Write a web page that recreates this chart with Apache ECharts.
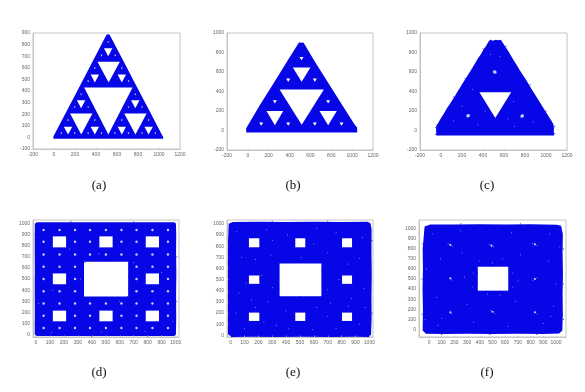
<!DOCTYPE html>
<html>
<head>
<meta charset="utf-8">
<style>html,body{margin:0;padding:0;background:#fff}#c{width:585px;height:392px}</style>
<script src="https://cdn.jsdelivr.net/npm/echarts@6/dist/echarts.min.js"></script>
</head>
<body>
<div id="c"></div>
<script>
// ---------- values (data units) ----------
const captions = ['(a)', '(b)', '(c)', '(d)', '(e)', '(f)'];
const ticks0to1000 = [0, 100, 200, 300, 400, 500, 600, 700, 800, 900, 1000];

// Outer outlines
const outlineA = [[-6,-12],[300,-12],[700,-12],[1040,-12],[1040,4],[1030,18],[900,245],[770,470],[640,695],[530,885],[515,890],[500,885],[380,675],[250,450],[120,225],[-6,8]];
const outlineB = [[-16,-20],[300,-20],[700,-20],[1048,-20],[1048,32],[1025,60],[900,270],[770,490],[640,710],[535,900],[490,903],[380,715],[250,490],[120,270],[-2,50],[-16,24]];
const outlineC = [[-45,-52],[-46,-20],[-47,20],[-42,58],[-30,70],[-15,100],[5,135],[28,175],[55,225],[80,265],[108,312],[130,350],[158,400],[185,445],[212,495],[240,540],[268,590],[295,635],[322,685],[350,735],[378,780],[405,830],[430,870],[455,915],[470,932],[495,920],[520,930],[545,925],[570,932],[585,905],[610,865],[640,815],[668,765],[695,715],[725,665],[752,615],[780,570],[810,520],[838,470],[865,420],[895,370],[920,325],[950,275],[978,225],[1005,180],[1030,135],[1055,95],[1072,60],[1076,20],[1074,-20],[1078,-52]];
const outlineD = [[2,-12],[120,-13],[300,-11],[500,-13],[700,-11],[900,-13],[990,-12],[1002,2],[1004,150],[1003,350],[1005,550],[1003,750],[1004,900],[1002,998],[990,1010],[800,1009],[600,1010],[400,1009],[200,1010],[6,1010],[-8,996],[-9,800],[-8,600],[-9,400],[-8,200],[-9,4]];
const outlineE = [[5,-14],[150,-13],[320,-14],[520,-13],[720,-14],[900,-13],[995,-14],[1012,6],[1016,150],[1015,350],[1017,550],[1015,750],[1016,950],[1008,1005],[988,1019],[800,1018],[600,1020],[400,1018],[200,1020],[15,1018],[-14,1002],[-20,800],[-19,600],[-21,400],[-19,200],[-20,12]];
const outlineF = [[-25,-44],[120,-46],[300,-43],[500,-46],[700,-44],[900,-46],[1025,-42],[1050,-12],[1054,150],[1052,350],[1055,550],[1052,750],[1054,950],[1040,1028],[1005,1040],[800,1043],[600,1041],[400,1043],[200,1041],[10,1042],[-35,1022],[-50,800],[-48,600],[-51,400],[-48,200],[-50,-12]];

// Inverted triangular holes: [left, right, top y, tip y]
const trianglesA = [[287,748,430,26],[153,366,205,26],[669,882,205,26],[414,627,653,474],
  [94,174,92,26],[349,429,92,26],[606,686,92,26],[861,941,92,26],[218,298,321,251],[734,814,321,251],
  [349,429,543,474],[606,686,543,474],[476,556,769,699],
  [62,78,42,28],[189,205,42,28],[317,333,42,28],[444,460,42,28],[572,588,42,28],[702,718,42,28],[830,846,42,28],[957,973,42,28],
  [126,142,154,140],[381,397,154,140],[638,654,154,140],[893,909,154,140],
  [189,205,267,253],[317,333,267,253],[702,718,267,253],[830,846,267,253],[250,266,377,363],[766,782,377,363],
  [317,333,490,476],[702,718,490,476],[381,397,602,588],[638,654,602,588],[444,460,712,698],[575,591,712,698],[508,524,827,813]];
const trianglesB = [[304,729,420,58],[431,600,645,500],[179,339,200,55],[687,853,200,55],
  [109,147,83,48],[368,406,83,48],[623,661,83,48],[879,917,83,48],[240,278,310,276],[751,789,310,276],
  [368,406,534,497],[623,661,534,497],[495,533,755,720]];
const trianglesC = [[366,668,393,128]];

// Square holes: [left, right, bottom, top]
const squaresD = [[344,660,342,655],[121,216,784,883],[454,549,784,883],[786,881,784,883],[121,216,453,550],[786,881,453,550],[121,216,120,216],[454,549,120,216],[786,881,120,216]];
const squaresE = [[353,654,351,645],[132,207,790,871],[466,538,790,871],[803,875,790,871],[132,207,462,537],[803,875,462,537],[132,207,129,204],[466,538,129,204],[803,875,129,204]];
const squaresF = [[384,624,384,622]];

// Larger white specks: [x, y]
const blotchesC = [[512,600],[258,152],[773,148]];
const blotchesD = [
  [55,940],[169,940],[280,940],[387,940],[501,940],[612,940],[720,940],[834,940],[945,940],
  [55,835],[280,835],[387,835],[612,835],[720,835],[945,835],
  [55,720],[169,720],[280,720],[387,720],[501,720],[612,720],[720,720],[834,720],[945,720],
  [55,610],[169,610],[280,610],[720,610],[834,610],[945,610],
  [55,500],[280,500],[720,500],[945,500],
  [55,390],[169,390],[280,390],[720,390],[834,390],[945,390],
  [55,280],[169,280],[280,280],[387,280],[501,280],[612,280],[720,280],[834,280],[945,280],
  [55,170],[280,170],[387,170],[612,170],[720,170],[945,170],
  [55,60],[169,60],[280,60],[387,60],[501,60],[612,60],[720,60],[834,60],[945,60]];
const blotchesF = [[168,838],[492,831],[834,844],[168,507],[834,500],[168,169],[500,175],[834,169]];

// Fine white specks: [x, y]
const fineC = [[530,590],[495,612],[270,162],[245,142],[785,160],[760,136],[300,420],[200,250],[690,300],[120,100],[880,90],[420,200],[640,120],[350,60],[700,40],[470,780],[560,760]];
const fineD = [[110,20],[470,25],[780,30],[20,280],[980,120],[450,730],[600,300],[320,500],[700,650],[120,400],[900,560],[240,770]];
const fineE = [[45,930],[260,950],[410,900],[620,960],[760,920],[950,880],[80,700],[290,720],[700,740],[930,690],[60,380],[270,300],[720,290],[960,420],[100,60],[330,90],[590,50],[760,60],[930,100],[400,220],[620,250],[240,120],[700,170],[40,200],[970,250],[300,850],[600,820],[180,680],[850,640],[150,320],[870,330],[420,60],[225,540],[780,500],[110,470],[300,430],[700,410],[510,700],[180,250],[850,260]];
const fineF = [[185,825],[150,850],[510,820],[475,845],[850,835],[815,855],[178,490],[850,512],[818,488],[180,155],[515,160],[485,190],[850,155],[30,950],[250,980],[650,960],[950,950],[-20,600],[280,520],[700,480],[1000,450],[60,320],[300,250],[680,280],[980,230],[70,40],[350,70],[620,30],[900,60],[400,680],[580,700],[340,420],[660,420],[350,560],[660,560],[500,660],[460,350],[560,340],[90,700],[260,760],[720,740],[940,680],[100,110],[960,130],[-30,100],[1030,820]];

// Blue stray points beside outlines and holes: [x, y]
const strayC = [[-52,30],[-50,-40],[120,345],[230,535],[400,838],[620,865],[850,470],[1000,198],[1083,40],[1082,-30],[450,400],[620,400]];
const strayD = [[-14,100],[-14,500],[-14,900],[1008,300],[1009,700],[250,1015],[700,1014],[400,-17],[800,-17],[340,500],[664,420],[500,660],[350,650],[655,345]];
const strayE = [[-24,250],[-24,650],[1020,200],[1020,850],[300,1024],[700,1023],[150,-18],[600,-18],[348,420],[658,580],[500,347],[211,500],[128,830],[350,345],[655,348]];
const strayF = [[-56,150],[-56,500],[-55,850],[1059,100],[1059,450],[1059,800],[250,1047],[720,1047],[100,-50],[480,-50],[850,-50],[378,450],[630,520],[500,627],[450,378],[560,378],[380,560],[630,400]];
// ---------------------------------------------------------------

const BLUE = '#0606e6', GREY = '#666', FRAME = '#c4c4c4';
const triPoly = t => [[t[0], t[2]], [t[1], t[2]], [(t[0] + t[1]) / 2, t[3]]];
const sqPoly = s => [[s[0], s[2]], [s[1], s[2]], [s[1], s[3]], [s[0], s[3]]];

const panels = [
  {box:[33,33,147,116], x:{min:-200,max:1200,interval:200}, y:{min:-100,max:900,interval:100}, outline:outlineA, holes:trianglesA.map(triPoly), blotch:[], blotchSize:0, fine:[], stray:[], cap:[99,186]},
  {box:[227,33,146,117], x:{min:-200,max:1200,interval:200}, y:{min:-200,max:1000,interval:200}, outline:outlineB, holes:trianglesB.map(triPoly), blotch:[], blotchSize:0, fine:[], stray:[], cap:[293,186]},
  {box:[420,33,147,117], x:{min:-200,max:1200,interval:200}, y:{min:-200,max:1000,interval:200}, outline:outlineC, holes:trianglesC.map(triPoly), blotch:blotchesC, blotchSize:3.5, fine:fineC, stray:strayC, cap:[487,186]},
  {box:[33,220,146,117], x:{min:-21,max:1024,ticks:ticks0to1000}, y:{min:-21,max:1030,ticks:ticks0to1000}, outline:outlineD, holes:squaresD.map(sqPoly), blotch:blotchesD, blotchSize:2.4, fine:fineD, stray:strayD, cap:[99,373]},
  {box:[227,220,146,117], x:{min:-26,max:1026,ticks:ticks0to1000}, y:{min:-15,max:1035,ticks:ticks0to1000}, outline:outlineE, holes:squaresE.map(sqPoly), blotch:[], blotchSize:0, fine:fineE, stray:strayE, cap:[293,373]},
  {box:[419,220,147,117], x:{min:-79,max:1079,ticks:ticks0to1000}, y:{min:-76,max:1086,ticks:ticks0to1000}, outline:outlineF, holes:squaresF.map(sqPoly), blotch:blotchesF, blotchSize:2.2, fine:fineF, stray:strayF, cap:[487,373]}
];

function axisOf(spec, i) {
  const a = {
    type: 'value', gridIndex: i, min: spec.min, max: spec.max, z: 5,
    axisLine: {show: true, onZero: false, lineStyle: {color: FRAME, width: 1}},
    splitLine: {show: false},
    axisTick: {show: true, inside: true, length: 1.5, lineStyle: {color: FRAME, width: 0.6}},
    axisLabel: {show: true, fontSize: 5, color: GREY, margin: 3, fontFamily: 'Liberation Sans', hideOverlap: false, showMinLabel: true, showMaxLabel: true, formatter: v => String(v)}
  };
  if (spec.ticks) {
    a.axisLabel.customValues = spec.ticks;
    a.axisTick.customValues = spec.ticks;
  } else {
    a.interval = spec.interval;
  }
  return a;
}

function polySeries(polys, color, i, z) {
  return {
    type: 'custom', xAxisIndex: i, yAxisIndex: i, coordinateSystem: 'cartesian2d',
    silent: true, animation: false, z: z, clip: true,
    data: polys.map((p, k) => [p[0][0], p[0][1], k]),
    renderItem: (params, api) => ({
      type: 'polygon',
      shape: {points: polys[api.value(2)].map(v => api.coord(v))},
      style: {fill: color}
    })
  };
}
function dotSeries(pts, color, size, i, z) {
  return {
    type: 'scatter', xAxisIndex: i, yAxisIndex: i, data: pts, symbol: 'circle', symbolSize: size,
    itemStyle: {color: color}, silent: true, animation: false, z: z
  };
}

const grids = [], xAxes = [], yAxes = [], series = [], graphics = [];
panels.forEach((p, i) => {
  grids.push({left: p.box[0], top: p.box[1], width: p.box[2], height: p.box[3], containLabel: false, show: true, borderColor: FRAME, borderWidth: 1, backgroundColor: '#fff'});
  xAxes.push(axisOf(p.x, i));
  yAxes.push(axisOf(p.y, i));
  series.push(polySeries([p.outline], BLUE, i, 2));
  series.push(polySeries(p.holes, '#ffffff', i, 3));
  if (p.blotch.length) series.push(dotSeries(p.blotch, '#ffffff', p.blotchSize, i, 4));
  if (p.fine.length) series.push(dotSeries(p.fine, 'rgba(255,255,255,0.75)', 1, i, 4));
  if (p.stray.length) series.push(dotSeries(p.stray, BLUE, 1.2, i, 4));
  graphics.push({type: 'text', x: p.cap[0], y: p.cap[1], style: {text: captions[i], font: '13px "Liberation Serif"', fill: '#111', textAlign: 'center', textVerticalAlign: 'middle'}});
});

const chart = echarts.init(document.getElementById('c'), null, {renderer: 'canvas', width: 585, height: 392});
chart.setOption({animation: false, backgroundColor: '#fff', grid: grids, xAxis: xAxes, yAxis: yAxes, series: series, graphic: graphics});
</script>
</body>
</html>
